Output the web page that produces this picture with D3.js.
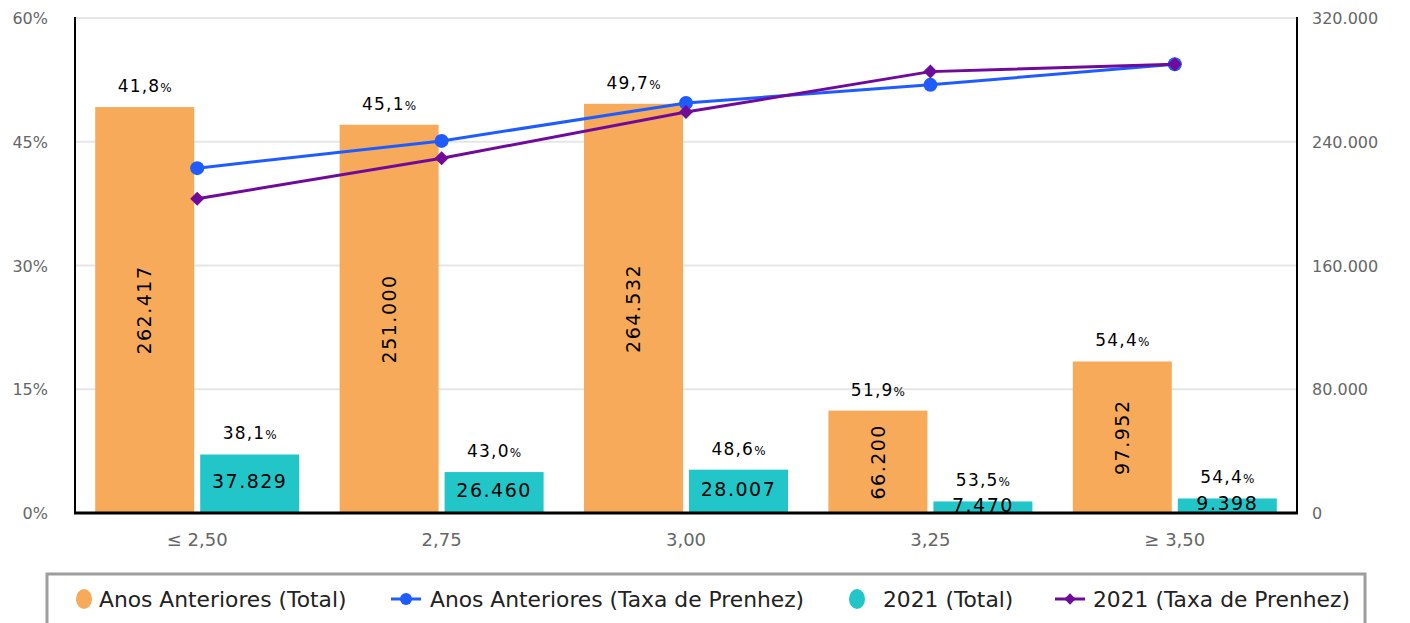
<!DOCTYPE html>
<html>
<head>
<meta charset="utf-8">
<script src="https://cdn.jsdelivr.net/npm/d3@7"></script>
<style>
  html, body { margin: 0; padding: 0; background: #fff; }
  svg { display: block; }
  text { font-family: "DejaVu Sans", sans-serif; }
</style>
</head>
<body>
<svg id="chart" width="1410" height="623"></svg>
<script>
const categories = ["≤ 2,50", "2,75", "3,00", "3,25", "≥ 3,50"];
const totalAnteriores = [262417, 251000, 264532, 66200, 97952];
const total2021 = [37829, 26460, 28007, 7470, 9398];
const taxaAnteriores = [41.8, 45.1, 49.7, 51.9, 54.4];
const taxa2021 = [38.1, 43.0, 48.6, 53.5, 54.4];
const leftTicks = [0, 15, 30, 45, 60];
const rightTicks = [0, 80000, 160000, 240000, 320000];
const seriesNames = ["Anos Anteriores (Total)", "Anos Anteriores (Taxa de Prenhez)", "2021 (Total)", "2021 (Taxa de Prenhez)"];
const colors = { orange: "#f7ab5a", blue: "#1f5cff", teal: "#22c6c8", purple: "#6f0a9b" };

const svg = d3.select("#chart");
const L = 75, R = 1297, T = 18, B = 513;

const x = d3.scaleBand().domain(categories).range([L, R]).padding(0);
const yL = d3.scaleLinear().domain([0, 60]).range([B, T]);
const yR = d3.scaleLinear().domain([0, 320000]).range([B, T]);

const fmtInt = v => d3.format(",")(v).replace(/,/g, ".");
const fmtPct = v => d3.format(".1f")(v).replace(".", ",");

// gridlines
svg.append("g").selectAll("line").data(leftTicks).join("line")
  .attr("x1", L).attr("x2", R)
  .attr("y1", d => yL(d)).attr("y2", d => yL(d))
  .attr("stroke", "#e6e6e6").attr("stroke-width", 2);

// left axis
const gL = svg.append("g").attr("transform", `translate(${L},0)`)
  .call(d3.axisLeft(yL).tickValues(leftTicks).tickSize(0).tickPadding(27).tickFormat(d => d + "%"));
gL.select(".domain").remove();
gL.selectAll("text").attr("fill", "#666").attr("font-size", 16).attr("dy", "0.35em");

// right axis
const gR = svg.append("g").attr("transform", `translate(${R},0)`)
  .call(d3.axisRight(yR).tickValues(rightTicks).tickSize(0).tickPadding(15).tickFormat(fmtInt));
gR.select(".domain").remove();
gR.selectAll("text").attr("fill", "#666").attr("font-size", 16).attr("dy", "0.35em");

// bottom axis labels
const gB = svg.append("g").attr("transform", `translate(0,${B})`)
  .call(d3.axisBottom(x).tickSize(0).tickPadding(20));
gB.select(".domain").remove();
gB.selectAll("text").attr("fill", "#666").attr("font-size", 18).attr("dy", "0.71em");

const barW = 99, gap = 3;
const clipId = "plotclip";
svg.append("clipPath").attr("id", clipId).append("rect")
  .attr("x", L).attr("y", 0).attr("width", R - L).attr("height", B);

const barsG = svg.append("g");
barsG.selectAll("rect.o").data(categories).join("rect")
  .attr("x", d => x(d) + x.bandwidth() / 2 - gap - barW)
  .attr("y", (d, i) => yR(totalAnteriores[i]))
  .attr("width", barW)
  .attr("height", (d, i) => B - yR(totalAnteriores[i]))
  .attr("fill", colors.orange);
barsG.selectAll("rect.t").data(categories).join("rect")
  .attr("x", d => x(d) + x.bandwidth() / 2 + gap)
  .attr("y", (d, i) => yR(total2021[i]))
  .attr("width", barW)
  .attr("height", (d, i) => B - yR(total2021[i]))
  .attr("fill", colors.teal);

// value labels in bars
const lab = svg.append("g").attr("clip-path", `url(#${clipId})`);
categories.forEach((c, i) => {
  const ox = x(c) + x.bandwidth() / 2 - gap - barW / 2;
  const oy = (yR(totalAnteriores[i]) + B) / 2;
  lab.append("text")
    .attr("transform", `translate(${ox},${oy}) rotate(-90)`)
    .attr("text-anchor", "middle").attr("dy", "0.35em")
    .attr("font-size", 19).attr("letter-spacing", 1.5).attr("fill", "#000")
    .text(fmtInt(totalAnteriores[i]));
  const tx = x(c) + x.bandwidth() / 2 + gap + barW / 2;
  const ty = (yR(total2021[i]) + B) / 2;
  lab.append("text")
    .attr("x", tx).attr("y", ty - 2)
    .attr("text-anchor", "middle").attr("dy", "0.35em")
    .attr("font-size", 19).attr("letter-spacing", 1.5).attr("fill", "#000")
    .text(fmtInt(total2021[i]));
});

// percentage labels above bars
function pctLabel(px, py, v) {
  const t = svg.append("text").attr("x", px).attr("y", py)
    .attr("text-anchor", "middle").attr("fill", "#000").attr("font-size", 17).attr("letter-spacing", 1.2);
  t.append("tspan").text(fmtPct(v));
  t.append("tspan").attr("font-size", 12).attr("letter-spacing", 0).text("%");
}
categories.forEach((c, i) => {
  const ox = x(c) + x.bandwidth() / 2 - gap - barW / 2;
  pctLabel(ox, yR(totalAnteriores[i]) - 15, taxaAnteriores[i]);
  const tx = x(c) + x.bandwidth() / 2 + gap + barW / 2;
  pctLabel(tx, yR(total2021[i]) - 15, taxa2021[i]);
});

// axis lines
svg.append("line").attr("x1", L).attr("x2", L).attr("y1", T - 1).attr("y2", B + 1).attr("stroke", "#000").attr("stroke-width", 2);
svg.append("line").attr("x1", R).attr("x2", R).attr("y1", T - 1).attr("y2", B + 1).attr("stroke", "#000").attr("stroke-width", 2);
svg.append("line").attr("x1", L - 1).attr("x2", R + 1).attr("y1", B).attr("y2", B).attr("stroke", "#000").attr("stroke-width", 3);

// lines
const cx = d => x(d) + x.bandwidth() / 2;
const lineGen = vals => d3.line().x(d => cx(d)).y((d, i) => yL(vals[i]))(categories);
svg.append("path").attr("d", lineGen(taxaAnteriores)).attr("fill", "none")
  .attr("stroke", colors.blue).attr("stroke-width", 3);
svg.append("g").selectAll("circle").data(categories).join("circle")
  .attr("cx", cx).attr("cy", (d, i) => yL(taxaAnteriores[i])).attr("r", 7).attr("fill", colors.blue);
svg.append("path").attr("d", lineGen(taxa2021)).attr("fill", "none")
  .attr("stroke", colors.purple).attr("stroke-width", 3);
const diamond = d3.symbol().type(d3.symbolSquare).size(98);
svg.append("g").selectAll("path").data(categories).join("path")
  .attr("d", diamond)
  .attr("transform", (d, i) => `translate(${cx(d)},${yL(taxa2021[i])}) rotate(45)`)
  .attr("fill", colors.purple);

// legend
const lg = svg.append("g");
lg.append("rect").attr("x", 47).attr("y", 574).attr("width", 1318).attr("height", 60)
  .attr("fill", "#fff").attr("stroke", "#9e9e9e").attr("stroke-width", 3);
const ly = 599;
const legendItems = [
  { name: seriesNames[0], type: "circle", color: colors.orange, mx: 84, tx: 99 },
  { name: seriesNames[1], type: "line-circle", color: colors.blue, mx: 406, tx: 430 },
  { name: seriesNames[2], type: "circle", color: colors.teal, mx: 857, tx: 883 },
  { name: seriesNames[3], type: "line-diamond", color: colors.purple, mx: 1070, tx: 1093 }
];
legendItems.forEach(it => {
  if (it.type === "circle") {
    lg.append("ellipse").attr("cx", it.mx).attr("cy", ly).attr("rx", 8).attr("ry", 10).attr("fill", it.color);
  } else {
    lg.append("line").attr("x1", it.mx - 15).attr("x2", it.mx + 15).attr("y1", ly).attr("y2", ly)
      .attr("stroke", it.color).attr("stroke-width", 3);
    if (it.type === "line-circle") {
      lg.append("circle").attr("cx", it.mx).attr("cy", ly).attr("r", 6).attr("fill", it.color);
    } else {
      lg.append("path").attr("d", d3.symbol().type(d3.symbolSquare).size(64))
        .attr("transform", `translate(${it.mx},${ly}) rotate(45)`).attr("fill", it.color);
    }
  }
  lg.append("text").attr("x", it.tx).attr("y", ly).attr("dy", "0.35em")
    .attr("font-size", 21.8).attr("fill", "#222").text(it.name);
});
</script>
</body>
</html>
